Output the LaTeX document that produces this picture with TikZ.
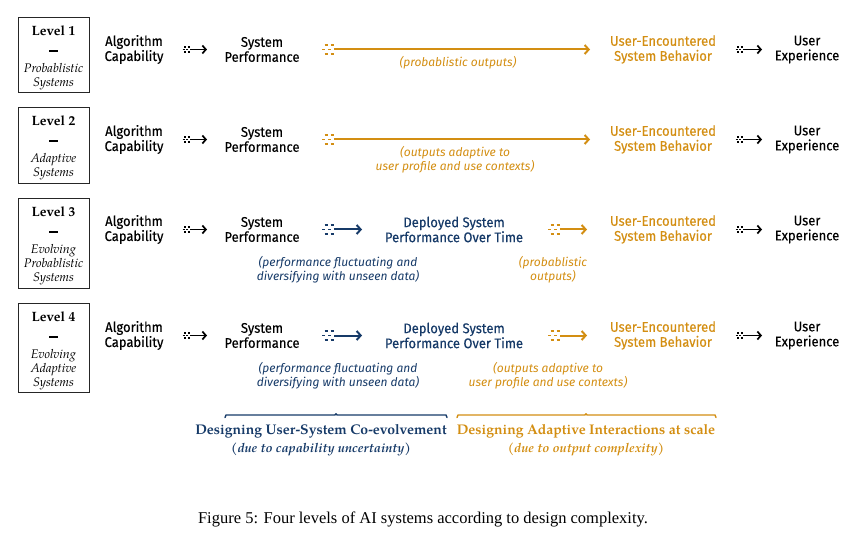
\documentclass[tikz,border=0pt]{standalone}
\usepackage{fontspec}
\setmainfont{Liberation Serif}
\newfontfamily\fira[FakeBold=0.3,FakeStretch=0.93]{Fira Sans}
\newfontfamily\firait{Fira Sans}
\newfontfamily\pal[Ligatures=TeX]{TeX Gyre Pagella}
\usetikzlibrary{arrows.meta,decorations.markings,calc}
\definecolor{gold}{RGB}{211,142,18}
\definecolor{navy}{RGB}{22,58,104}
\newcommand{\boxit}[1]{{\itshape\fontsize{12.5}{14}\selectfont #1}}
\newcommand{\lvldash}{\rule[3.2pt]{9pt}{1.7pt}}
\newcommand{\dglyph}[3]{%
  \begin{scope}[scale=#2, line width=#3, line cap=butt, draw=#1]
    \draw[-] (-9.3,4.2)--(-6,4.2) (-3.3,4.2)--(0,4.2);
    \draw[-] (-12,0)--(-8.7,0) (-6,0)--(-2.7,0);
    \draw[-] (-9.3,-4.2)--(-6,-4.2) (-3.3,-4.2)--(0,-4.2);
  \end{scope}}
\tikzset{
  lvl/.style={draw=black!85, line width=0.9pt, minimum width=71pt, align=center, inner sep=0pt, font=\pal\fontsize{13.5}{14}\selectfont},
  item/.style={align=center, inner sep=0pt, font=\fira\fontsize{14}{15}\selectfont},
  lab/.style={align=center, inner sep=0pt, font=\firait\itshape\fontsize{12}{14}\selectfont},
  bigflow/.style={line width=2pt, draw=#1, -{Straight Barb[length=4pt,width=9pt]},
    postaction={decorate}, decoration={markings, mark=at position 0 with {\dglyph{#1}{1}{1.7pt}}}},
  smallflow/.style={line width=1.7pt, draw=#1, -{Straight Barb[length=3.5pt,width=8pt]},
    postaction={decorate}, decoration={markings, mark=at position 0 with {\dglyph{#1}{0.62}{1.5pt}}}},
  brace/.style={line width=1.4pt, line cap=round, line join=round},
  bottomtitle/.style={inner sep=0pt, font=\pal\bfseries\fontsize{14}{16}\selectfont},
  bottomsub/.style={inner sep=0pt, font=\pal\bfseries\itshape\fontsize{12.8}{14}\selectfont},
}
\begin{document}
\begin{tikzpicture}[x=1pt,y=-1pt]
\useasboundingbox (0,0) rectangle (856,534);

% level boxes
\node[lvl, minimum height=75pt] (L1) at (53.5,54.5)
  {\rule{0pt}{16pt}\textbf{Level 1}\\[5.5pt]\lvldash\\[3.5pt]\boxit{Probablistic}\\\boxit{Systems}};
\node[lvl, minimum height=76pt] (L2) at (53.5,145)
  {\rule{0pt}{16pt}\textbf{Level 2}\\[5.5pt]\lvldash\\[3.5pt]\boxit{Adaptive}\\\boxit{Systems}};
\node[lvl, minimum height=90pt] (L3) at (53.5,243)
  {\rule{0pt}{16pt}\textbf{Level 3}\\[5.5pt]\lvldash\\[3.5pt]\boxit{Evolving}\\\boxit{Probablistic}\\\boxit{Systems}};
\node[lvl, minimum height=89pt] (L4) at (53.5,347.5)
  {\rule{0pt}{16pt}\textbf{Level 4}\\[5.5pt]\lvldash\\[3.5pt]\boxit{Evolving}\\\boxit{Adaptive}\\\boxit{Systems}};

% rows
\foreach \r/\y in {1/49.5,2/139.5,3/229.5,4/335.5}{
  \node[item] (alg\r) at (134,\y) {Algorithm\\Capability};
  \node[item] (sys\r) at (262,\y) {System\\Performance};
  \node[item, text=gold] (ue\r) at (663,\y) {User-Encountered\\System Behavior};
  \node[item] (ux\r) at (807,\y) {User\\Experience};
  \draw[smallflow=black] ($(alg\r.center)+(56,0)$) -- ($(sys\r.center)+(-55,0)$);
  \draw[smallflow=black] ($(ue\r.center)+(80,0)$) -- ($(ux\r.center)+(-45,0)$);
}
\foreach \r/\y in {3/229.5,4/335.5}{
  \node[item, text=navy] (dep\r) at (454,\y) {Deployed System\\Performance Over Time};
  \draw[bigflow=navy] ($(sys\r.center)+(72,0)$) -- ($(dep\r.center)+(-92,0)$);
  \draw[bigflow=gold] ($(dep\r.center)+(106,0)$) -- ($(ue\r.center)+(-76,0)$);
}
\foreach \r in {1,2}{
  \draw[bigflow=gold] ($(sys\r.center)+(72,0)$) -- ($(ue\r.center)+(-73,0)$);
}

% labels
\node[lab, text=gold] (lb1) at (458,62.5) {(probablistic outputs)};
\node[lab, text=gold] (lb2) at (455,160) {(outputs adaptive to\\user profile and use contexts)};
\node[lab, text=navy] (lb3a) at (338,270) {(performance fluctuating and\\diversifying with unseen data)};
\node[lab, text=gold] (lb3b) at (553,270) {(probablistic\\outputs)};
\node[lab, text=navy] (lb4a) at (338,376) {(performance fluctuating and\\diversifying with unseen data)};
\node[lab, text=gold] (lb4b) at (548,376) {(outputs adaptive to\\user profile and use contexts)};

% braces
\draw[brace, navy] (225,417.5) -- (226,415) -- (335,415) -- (336,413.8) -- (337,415) -- (446,415) -- (447,417.5);
\draw[brace, gold] (457,417.5) -- (458,415) -- (585,415) -- (586,413.8) -- (587,415) -- (715,415) -- (716,417.5);

\node[bottomtitle, text=navy] (t1) at (321,431) {Designing User-System Co-evolvement};
\node[bottomsub, text=navy] (s1) at (321,449) {(due to capability uncertainty)};
\node[bottomtitle, text=gold] (t2) at (586,431) {Designing Adaptive Interactions at scale};
\node[bottomsub, text=gold] (s2) at (586,449) {(due to output complexity)};

\node[inner sep=0pt, font=\fontsize{16.5}{18}\selectfont] (cap) at (423,519) {Figure 5: Four levels of AI systems according to design complexity.};
\end{tikzpicture}
\end{document}
